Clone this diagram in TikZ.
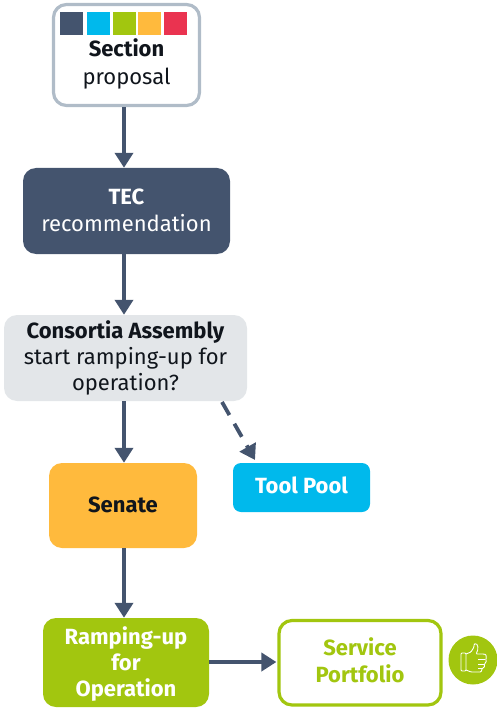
\documentclass[tikz,border=0pt]{standalone}
\usepackage{fontspec}
\setmainfont{Fira Sans}
\usetikzlibrary{arrows.meta,calc}
\definecolor{navy}{HTML}{44546E}
\definecolor{greyb}{HTML}{B0BCC8}
\definecolor{pale}{HTML}{E3E6E9}
\definecolor{amber}{HTML}{FFBA3D}
\definecolor{sky}{HTML}{00B9EC}
\definecolor{lime}{HTML}{A2C60F}
\definecolor{crim}{HTML}{EA3350}
\definecolor{ink}{HTML}{10151C}
\tikzset{
  x=1pt,y=-1pt,
  box/.style={rounded corners=13pt,inner sep=0pt},
  label/.style={inner sep=0pt,align=center,font=\fontsize{22}{27}\selectfont},
  conn/.style={draw=navy,line width=3.8pt,-{Triangle[length=15pt,width=18pt]}},
  swatch/.style={fill=#1,draw=none,minimum width=23pt,minimum height=23pt,inner sep=0pt}
}
% name, x0,y0,x1,y1, box style, text colour, vertical text offset, text
\newcommand{\boxat}[9]{%
  \node[box,#6,minimum width=#4pt-#2pt,minimum height=#5pt-#3pt] (#1) at ({(#2+#4)/2},{(#3+#5)/2}) {};
  \node[label,text=#7] (#1-text) at ($(#1.center)+(0,#8)$) {#9};}
\begin{document}
\begin{tikzpicture}
\useasboundingbox (0,0) rectangle (496,708);
\boxat{sec}{53.5}{4.5}{199.5}{105.5}{draw=greyb,line width=3.2pt,fill=white}{ink}{9}{\textbf{Section}\\[1pt]proposal}
\boxat{tec}{23}{168}{230}{254}{fill=navy}{white}{-1}{\textbf{TEC}\\recommendation}
\boxat{con}{4}{315}{247}{401}{fill=pale}{ink}{0}{\textbf{Consortia Assembly}\\[-1pt]start ramping-up for\\[-1pt]operation?}
\boxat{sen}{49}{463}{197}{548}{fill=amber}{ink}{-1}{\textbf{Senate}}
\boxat{tool}{233}{463}{370}{512}{fill=sky,rounded corners=8pt}{white}{-2}{\textbf{Tool Pool}}
\boxat{ramp}{43}{618}{209}{707}{fill=lime}{white}{2}{\textbf{Ramping-up}\\[-1pt]\textbf{for}\\[-1pt]\textbf{Operation}}
\boxat{serv}{279}{620.5}{441}{705}{draw=lime,line width=3.2pt,fill=white}{lime}{-2}{\textbf{Service}\\\textbf{Portfolio}}
\node[swatch=navy] (s1) at (71.5,23.5) {};
\node[swatch=sky] (s2) at (98,23.5) {};
\node[swatch=lime] (s3) at (124,23.5) {};
\node[swatch=amber] (s4) at (149.5,23.5) {};
\node[swatch=crim] (s5) at (175,23.5) {};
\draw[conn] (sec.south -| 124,0) -- (tec.north -| 124,0);
\draw[conn] (tec.south -| 124,0) -- (con.north -| 124,0);
\draw[conn] (con.south -| 124,0) -- (sen.north -| 124,0);
\draw[conn] (sen.south -| 124,0) -- (ramp.north -| 124,0);
\draw[conn] (ramp.east |- 0,662) -- ([xshift=-1pt]serv.west |- 0,662);
\coordinate (dashstart) at (222,402);
\coordinate (dashend) at (255,460);
\draw[conn,dash pattern=on 15pt off 10pt] (dashstart) -- (dashend);
\node[circle,fill=lime,minimum size=49pt,inner sep=0pt] (thumb) at (473,660) {};
\begin{scope}[shift={(thumb.center)},draw=white,line width=0.9pt,line join=round,rounded corners=1pt]
\draw (-12,-7) rectangle (-7,11);
\draw (-7,-6) -- (-2,-8) -- (1,-13) -- (1,-16) .. controls (5,-17) and (6,-11) .. (3,-6)
  -- (11,-6) .. controls (14,-5) and (13,-1) .. (12,-1) .. controls (14,0) and (13,3) .. (11,4)
  .. controls (12,6) and (11,8) .. (9,8) .. controls (9,11) and (8,12) .. (6,12) -- (-2,12) -- (-7,10);
\draw (5,-1) -- (12,-1);
\draw (5,4) -- (11,4);
\draw (5,8) -- (9,8);
\end{scope}
\end{tikzpicture}
\end{document}
